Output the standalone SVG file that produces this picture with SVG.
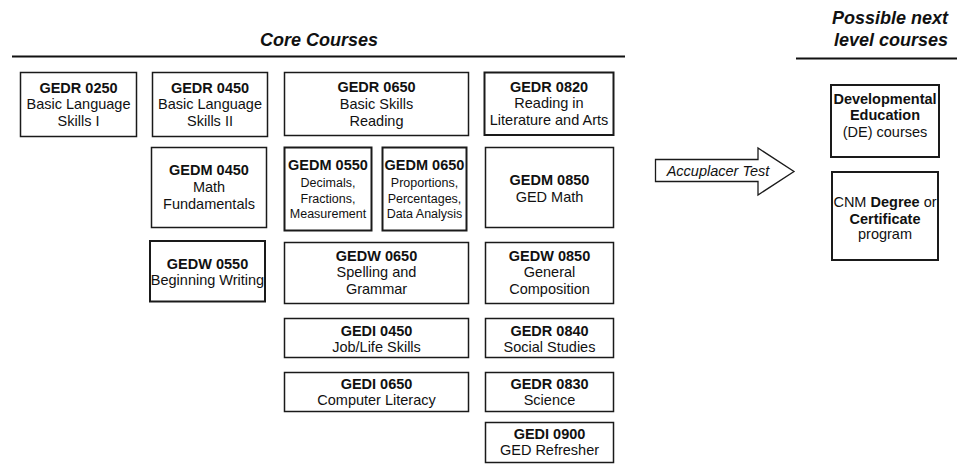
<svg xmlns="http://www.w3.org/2000/svg" width="957" height="464" viewBox="0 0 957 464">
<style>
  text { font-family: "Liberation Sans", Arial, sans-serif; fill: #111; text-anchor: middle; }
  .t { font-size: 18px; font-weight: bold; font-style: italic; }
  .b { font-size: 14.5px; font-weight: bold; }
  .n { font-size: 14.5px; }
  .s { font-size: 12.5px; }
  .box { fill: #fff; stroke: #1a1a1a; stroke-width: 1.5; }
  .bx2 { fill: #fff; stroke: #1a1a1a; stroke-width: 2; }
  .rule { stroke: #111; stroke-width: 2; }
</style>
<rect width="957" height="464" fill="#fff"/>
<g id="headers">
  <text class="t" x="319" y="46">Core Courses</text>
  <line class="rule" x1="12" y1="56.5" x2="625" y2="56.5"/>
  <text class="t" x="948" y="24" style="text-anchor:end">Possible next</text>
  <text class="t" x="948" y="46" style="text-anchor:end">level courses</text>
  <line class="rule" x1="796" y1="58.5" x2="957" y2="58.5"/>
</g>
<g id="gedr0250">
  <rect class="box" x="20.5" y="72.5" width="116" height="64"/>
  <text class="b" x="78.5" y="92.5">GEDR 0250</text>
  <text class="n" x="78.5" y="109">Basic Language</text>
  <text class="n" x="78.5" y="126">Skills I</text>
</g>
<g id="gedr0450">
  <rect class="box" x="152.5" y="72.5" width="115" height="64"/>
  <text class="b" x="210" y="92.5">GEDR 0450</text>
  <text class="n" x="210" y="109">Basic Language</text>
  <text class="n" x="210" y="126">Skills II</text>
</g>
<g id="gedm0450">
  <rect class="box" x="151.5" y="147.5" width="115" height="80"/>
  <text class="b" x="209" y="175">GEDM 0450</text>
  <text class="n" x="209" y="192">Math</text>
  <text class="n" x="209" y="209">Fundamentals</text>
</g>
<g id="gedw0550">
  <rect class="bx2" x="150" y="241" width="115" height="60.5"/>
  <text class="b" x="207.5" y="268.5">GEDW 0550</text>
  <text class="n" x="207.5" y="285">Beginning Writing</text>
</g>
<g id="gedr0650">
  <rect class="box" x="284.5" y="72.5" width="184" height="63"/>
  <text class="b" x="376.5" y="92">GEDR 0650</text>
  <text class="n" x="376.5" y="108.5">Basic Skills</text>
  <text class="n" x="376.5" y="125.5">Reading</text>
</g>
<g id="gedm0550">
  <rect class="bx2" x="284.5" y="147.5" width="87" height="83"/>
  <text class="b" x="328" y="170">GEDM 0550</text>
  <text class="s" x="328" y="187">Decimals,</text>
  <text class="s" x="328" y="202.5">Fractions,</text>
  <text class="s" x="328" y="218">Measurement</text>
</g>
<g id="gedm0650">
  <rect class="bx2" x="382.5" y="147.5" width="84" height="83"/>
  <text class="b" x="424.5" y="170">GEDM 0650</text>
  <text class="s" x="424.5" y="187">Proportions,</text>
  <text class="s" x="424.5" y="202.5">Percentages,</text>
  <text class="s" x="424.5" y="218">Data Analysis</text>
</g>
<g id="gedw0650">
  <rect class="box" x="284.5" y="242.5" width="184" height="61"/>
  <text class="b" x="376.5" y="260.5">GEDW 0650</text>
  <text class="n" x="376.5" y="277">Spelling and</text>
  <text class="n" x="376.5" y="294">Grammar</text>
</g>
<g id="gedi0450">
  <rect class="box" x="284.5" y="318.5" width="184" height="39"/>
  <text class="b" x="376.5" y="336">GEDI 0450</text>
  <text class="n" x="376.5" y="352">Job/Life Skills</text>
</g>
<g id="gedi0650">
  <rect class="box" x="284.5" y="372.5" width="184" height="39"/>
  <text class="b" x="376.5" y="388.5">GEDI 0650</text>
  <text class="n" x="376.5" y="405">Computer Literacy</text>
</g>
<g id="gedr0820">
  <rect class="bx2" x="484.5" y="72.5" width="129" height="62.5"/>
  <text class="b" x="549" y="91.5">GEDR 0820</text>
  <text class="n" x="549" y="108">Reading in</text>
  <text class="n" x="549" y="125">Literature and Arts</text>
</g>
<g id="gedm0850">
  <rect class="box" x="485.5" y="147.5" width="128" height="80"/>
  <text class="b" x="549.5" y="185">GEDM 0850</text>
  <text class="n" x="549.5" y="201.5">GED Math</text>
</g>
<g id="gedw0850">
  <rect class="box" x="485.5" y="242.5" width="128" height="61"/>
  <text class="b" x="549.5" y="260.5">GEDW 0850</text>
  <text class="n" x="549.5" y="277">General</text>
  <text class="n" x="549.5" y="294">Composition</text>
</g>
<g id="gedr0840">
  <rect class="box" x="485.5" y="318.5" width="128" height="39"/>
  <text class="b" x="549.5" y="336">GEDR 0840</text>
  <text class="n" x="549.5" y="352">Social Studies</text>
</g>
<g id="gedr0830">
  <rect class="box" x="485.5" y="372.5" width="128" height="39"/>
  <text class="b" x="549.5" y="388.5">GEDR 0830</text>
  <text class="n" x="549.5" y="405">Science</text>
</g>
<g id="gedi0900">
  <rect class="box" x="485.5" y="422.5" width="128" height="40"/>
  <text class="b" x="549.5" y="438.5">GEDI 0900</text>
  <text class="n" x="549.5" y="455">GED Refresher</text>
</g>
<g id="connectors">
  <polygon points="655.5,159.5 758,159.5 758,148 794,171.5 758,195 758,181.5 655.5,181.5" fill="#fff" stroke="#1a1a1a" stroke-width="1.3" stroke-linejoin="miter"/>
  <text x="718" y="176" style="font-size:14.5px;font-style:italic">Accuplacer Test</text>
</g>
<g id="de">
  <rect class="bx2" x="831" y="85" width="108" height="72"/>
  <text class="b" x="885" y="103.5">Developmental</text>
  <text class="b" x="885" y="120">Education</text>
  <text class="n" x="885" y="137">(DE) courses</text>
</g>
<g id="cnm">
  <rect class="bx2" x="832" y="172" width="106" height="88"/>
  <text class="n" x="885" y="207">CNM <tspan font-weight="bold">Degree</tspan> or</text>
  <text class="b" x="885" y="223.5">Certificate</text>
  <text class="n" x="885" y="239">program</text>
</g>
</svg>
